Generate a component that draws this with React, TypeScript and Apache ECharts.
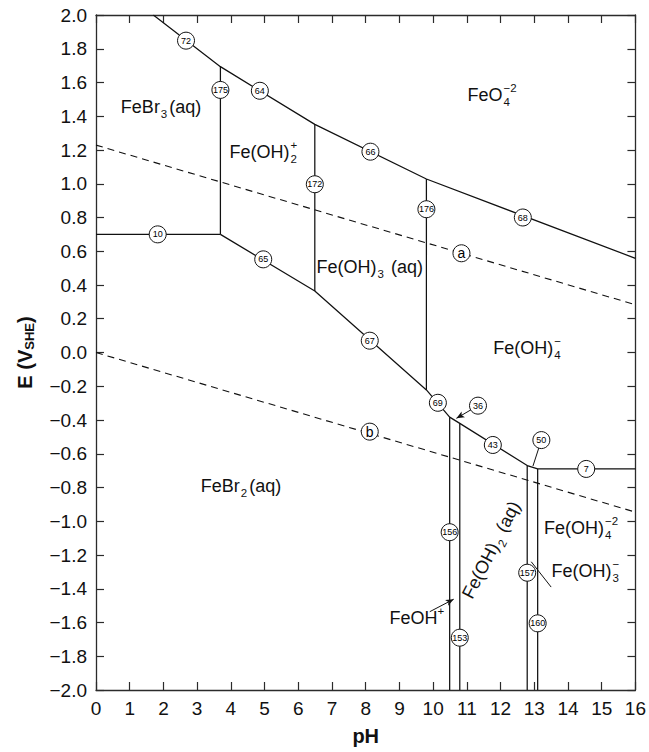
import React, { useEffect, useRef } from 'react';
import * as echarts from 'echarts';

const FONT = 'Liberation Sans';

// ---- Phase boundaries: [pH, E (V)] ----
const upperBoundary = [[1.70, 2.0], [3.69, 1.694], [6.49, 1.352], [9.80, 1.028], [16, 0.558]];
const feBr3Boundary = [[0, 0.70], [3.69, 0.70]];
const line175 = [[3.69, 1.694], [3.69, 0.70]];
const line172 = [[6.49, 1.352], [6.49, 0.364]];
const line176 = [[9.80, 1.028], [9.80, -0.222]];
const lowerBoundary = [[3.69, 0.70], [6.49, 0.364], [9.80, -0.222], [10.49, -0.383], [10.79, -0.42], [12.79, -0.670], [13.10, -0.69], [16, -0.69]];
const line156 = [[10.49, -0.383], [10.49, -2.0]];
const line153 = [[10.79, -0.42], [10.79, -2.0]];
const line157 = [[12.79, -0.670], [12.79, -2.0]];
const line160 = [[13.10, -0.69], [13.10, -2.0]];
// water stability lines (dashed)
const waterA = [[0, 1.229], [16, 0.283]];
const waterB = [[0, 0.0], [16, -0.946]];

// ---- Numbered markers ----
const markerLabels = ['72', '64', '66', '68', '175', '172', '176', '10', '65', '67', '69', '36', '43', '50', '7', '156', '153', '157', '160', 'a', 'b'];
const markerPH = [2.67, 4.86, 8.14, 12.66, 3.69, 6.49, 9.80, 1.83, 4.96, 8.12, 10.14, 11.33, 11.77, 13.21, 14.54, 10.49, 10.79, 12.79, 13.10, 10.84, 8.12];
const markerE = [1.848, 1.551, 1.19, 0.80, 1.556, 0.997, 0.849, 0.70, 0.552, 0.07, -0.298, -0.315, -0.548, -0.519, -0.69, -1.065, -1.69, -1.305, -1.605, 0.588, -0.469];

// ---- Leader lines: [from, to] ----
const leader36 = [[11.33, -0.315], [10.69, -0.39]];
const leader50 = [[13.21, -0.519], [12.96, -0.673]];
const leaderFeOH = [[9.90, -1.536], [10.61, -1.462]];
const leaderFeOH3 = [[12.91, -1.24], [13.50, -1.39]];

// ---- Region labels ----
const regionText = ['FeBr_{3}(aq)', 'Fe(OH)_{2}^{+}', 'FeO_{4}^{−2}', 'Fe(OH)_{3} (aq)', 'Fe(OH)_{4}^{−}', 'FeBr_{2}(aq)', 'Fe(OH)_{4}^{−2}', 'Fe(OH)_{3}^{−}', 'FeOH^{+}', 'Fe(OH)_{2} (aq)'];
const regionPH = [1.93, 4.98, 11.76, 8.12, 12.8, 4.3, 14.4, 14.53, 9.53, 11.72];
const regionE = [1.457, 1.19, 1.526, 0.508, 0.027, -0.79, -1.04, -1.295, -1.573, -1.17];
const regionAngle = [0, 0, 0, 0, 0, 0, 0, 0, 0, 63];

const xTicks = { min: 0, max: 16, interval: 1 };
const yTicks = { min: -2, max: 2, interval: 0.2 };

type Tok = { kind: 'n' | '_' | '^'; t: string };
function parse(s: string): Tok[] {
  const out: Tok[] = [];
  let i = 0;
  while (i < s.length) {
    if (s[i] === '_' || s[i] === '^') {
      const j = s.indexOf('}', i);
      out.push({ kind: s[i] as '_' | '^', t: s.slice(i + 2, j) });
      i = j + 1;
    } else {
      let j = i;
      while (j < s.length && s[j] !== '_' && s[j] !== '^') j++;
      out.push({ kind: 'n', t: s.slice(i, j) });
      i = j;
    }
  }
  return out;
}

export default function App() {
  const ref = useRef<HTMLDivElement>(null);
  useEffect(() => {
    const chart = echarts.init(ref.current!, null, { renderer: 'svg' });
    const axisColor = '#2b2b2b';
    const ink = '#111';
    const axisLine = { show: true, onZero: false, lineStyle: { color: axisColor, width: 1.3 } };
    const axisTick = { show: true, inside: true, length: 8, lineStyle: { color: axisColor, width: 1.2 } };
    const lineSeries = (data: number[][], dashed = false) => ({
      type: 'line',
      data,
      showSymbol: false,
      symbol: 'none',
      silent: true,
      z: 3,
      lineStyle: { color: ink, width: dashed ? 1.1 : 1.25, type: dashed ? [7, 5] : 'solid' },
    });
    const leader = (seg: number[][], arrow: boolean) => ({
      type: 'line',
      data: [],
      silent: true,
      z: 3,
      markLine: {
        silent: true,
        symbol: arrow ? ['none', 'arrow'] : ['none', 'none'],
        symbolSize: arrow ? [5, 8] : 0,
        label: { show: false },
        lineStyle: { color: ink, width: 1, type: 'solid' },
        data: [[{ coord: seg[0] }, { coord: seg[1] }]],
      },
    });
    const yFmt = (v: number) => (v < -1e-9 ? '−' : '') + Math.abs(v).toFixed(1);

    const option: any = {
      animation: false,
      backgroundColor: '#fff',
      textStyle: { fontFamily: FONT },
      grid: { left: 96, top: 15, width: 540, height: 675 },
      xAxis: [
        {
          type: 'value', ...xTicks, position: 'bottom',
          axisLine, axisTick, splitLine: { show: false },
          axisLabel: { fontSize: 19, color: ink, margin: 9, fontFamily: FONT },
          name: 'pH', nameLocation: 'middle', nameGap: 36,
          nameTextStyle: { fontSize: 20, fontWeight: 'bold', color: ink, fontFamily: FONT },
        },
        {
          type: 'value', ...xTicks, position: 'top',
          axisLine, axisTick, splitLine: { show: false }, axisLabel: { show: false },
        },
      ],
      yAxis: [
        {
          type: 'value', ...yTicks, position: 'left',
          axisLine, axisTick, splitLine: { show: false },
          axisLabel: { fontSize: 19, color: ink, margin: 9, fontFamily: FONT, formatter: yFmt },
          name: 'E (V{s|SHE})', nameLocation: 'middle', nameRotate: 90, nameGap: 60,
          nameTextStyle: {
            fontSize: 20, fontWeight: 'bold', color: ink, fontFamily: FONT,
            rich: { s: { fontSize: 13, fontWeight: 'bold', color: ink, fontFamily: FONT, padding: [9, 0, 0, 0], verticalAlign: 'bottom' } },
          },
        },
        {
          type: 'value', ...yTicks, position: 'right',
          axisLine, axisTick, splitLine: { show: false }, axisLabel: { show: false },
        },
      ],
      series: [
        ...[upperBoundary, feBr3Boundary, line175, line172, line176, lowerBoundary, line156, line153, line157, line160].map((d) => lineSeries(d)),
        lineSeries(waterA, true),
        lineSeries(waterB, true),
        leader(leader36, true),
        leader(leader50, false),
        leader(leaderFeOH, true),
        leader(leaderFeOH3, false),
        {
          type: 'scatter',
          silent: true,
          z: 10,
          symbol: 'circle',
          symbolSize: 17,
          itemStyle: { color: '#fff', borderColor: ink, borderWidth: 1, opacity: 1 },
          label: {
            show: true, position: 'inside', color: '#000', fontFamily: FONT,
            formatter: (p: any) => p.value[2],
          },
          data: markerLabels.map((lab, i) => ({
            value: [markerPH[i], markerE[i], lab],
            label: { fontSize: /[a-z]/.test(lab) ? 14 : 9, color: '#000' },
          })),
        },
      ],
    };
    chart.setOption(option);

    const ctx = document.createElement('canvas').getContext('2d')!;
    const measure = (t: string, size: number) => {
      ctx.font = `normal ${size}px "${FONT}"`;
      return ctx.measureText(t).width;
    };
    const txt = (t: string, x: number, y: number, size: number) => ({
      type: 'text', x, y, silent: true,
      style: {
        text: t, fontSize: size, fontFamily: FONT, fill: ink,
        align: 'left', verticalAlign: 'middle', textAlign: 'left', textVerticalAlign: 'middle',
      },
    });
    const MAIN = 18, SMALL = 11.5;
    const buildLabel = (s: string, cx: number, cy: number, rot: number) => {
      const kids: any[] = [];
      let x = 0;
      let lastSub: { x: number; w: number } | null = null;
      for (const tk of parse(s)) {
        if (tk.kind === 'n') {
          kids.push(txt(tk.t, x, 0, MAIN));
          x += measure(tk.t, MAIN);
          lastSub = null;
        } else if (tk.kind === '_') {
          const w = measure(tk.t, SMALL);
          kids.push(txt(tk.t, x + 1, 7, SMALL));
          lastSub = { x: x + 1, w };
          x += w + 3;
        } else {
          const w = measure(tk.t, SMALL);
          if (lastSub) {
            kids.push(txt(tk.t, lastSub.x, -7, SMALL));
            x = lastSub.x + Math.max(lastSub.w, w) + 1;
          } else {
            kids.push(txt(tk.t, x, -7, SMALL));
            x += w + 1;
          }
          lastSub = null;
        }
      }
      const half = x / 2;
      kids.forEach((k) => (k.x -= half));
      return { type: 'group', x: cx, y: cy, rotation: rot, silent: true, children: kids };
    };
    const graphics = regionText.map((s, i) => {
      const [px, py] = chart.convertToPixel({ xAxisIndex: 0, yAxisIndex: 0 }, [regionPH[i], regionE[i]]) as number[];
      return buildLabel(s, px, py, (regionAngle[i] * Math.PI) / 180);
    });
    chart.setOption({ graphic: graphics });

    return () => chart.dispose();
  }, []);
  return <div ref={ref} style={{ position: 'absolute', left: 0, top: 0, width: 649, height: 752 }} />;
}
